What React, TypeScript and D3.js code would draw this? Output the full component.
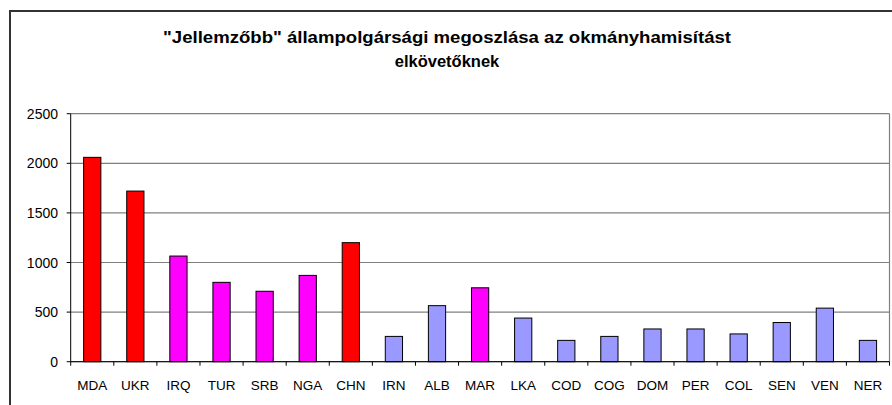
import React from "react";
import * as d3 from "d3";

const categories = ["MDA","UKR","IRQ","TUR","SRB","NGA","CHN","IRN","ALB","MAR","LKA","COD","COG","DOM","PER","COL","SEN","VEN","NER"];
const values = [2060,1720,1065,800,710,870,1200,255,565,745,440,215,255,330,330,280,395,540,215];
const groups = ["high","high","mid","mid","mid","mid","high","low","low","mid","low","low","low","low","low","low","low","low","low"];
const yTicks = [0,500,1000,1500,2000,2500];
const titleLines = ["\"Jellemzőbb\" állampolgársági megoszlása az okmányhamisítást", "elkövetőknek"];

const colors: Record<string, string> = { high: "#FF0000", mid: "#FF00FF", low: "#9999FF" };

export default function App() {
  const W = 892, H = 405;
  const left = 70.7, right = 889.5, top = 113.7, bottom = 361.7;
  const x = d3.scaleBand<string>().domain(categories).range([left, right]).padding(0);
  const y = d3.scaleLinear().domain([0, 2500]).range([bottom, top]);
  const bw = x.bandwidth() * 0.4;
  const font = "'Liberation Sans', Arial, sans-serif";
  const boundaries = categories.map((c) => x(c)!).concat([right]);
  return (
    <svg width={W} height={H} style={{ position: "absolute", left: 0, top: 0, background: "#fff" }} fontFamily={font}>
      <rect x={0} y={0} width={W} height={H} fill="#fff" />
      <rect x={10} y={11} width={900} height={420} fill="none" stroke="#333" strokeWidth={2} />
      <text x={447} y={43} textAnchor="middle" fontWeight="bold" fontSize={16.5} fill="#000"
        textLength={568} lengthAdjust="spacingAndGlyphs">{titleLines[0]}</text>
      <text x={447} y={67} textAnchor="middle" fontWeight="bold" fontSize={16.5} fill="#000">{titleLines[1]}</text>
      {yTicks.map((t) => (
        <line key={"g" + t} x1={left} x2={right} y1={y(t)} y2={y(t)} stroke="#808080" strokeWidth={1.2} />
      ))}
      <line x1={right} x2={right} y1={top} y2={bottom} stroke="#808080" strokeWidth={1.2} />
      {categories.map((c, i) => (
        <rect key={c} x={x(c)! + (x.bandwidth() - bw) / 2} y={y(values[i])} width={bw} height={bottom - y(values[i])}
          fill={colors[groups[i]]} stroke="#000" strokeWidth={1} />
      ))}
      <line x1={left} x2={left} y1={top} y2={bottom} stroke="#000" strokeWidth={1} />
      <line x1={left} x2={right} y1={bottom} y2={bottom} stroke="#000" strokeWidth={1} />
      {yTicks.map((t) => (
        <g key={"t" + t}>
          <line x1={left - 4} x2={left} y1={y(t)} y2={y(t)} stroke="#000" />
          <text x={58} y={y(t) + 5} textAnchor="end" fontSize={14} fill="#000">{t}</text>
        </g>
      ))}
      {boundaries.map((b, i) => (
        <line key={"xt" + i} x1={b} x2={b} y1={bottom} y2={bottom + 4} stroke="#000" />
      ))}
      {categories.map((c) => (
        <text key={"l" + c} x={x(c)! + x.bandwidth() / 2} y={390} textAnchor="middle" fontSize={13.5} fill="#000">{c}</text>
      ))}
    </svg>
  );
}
